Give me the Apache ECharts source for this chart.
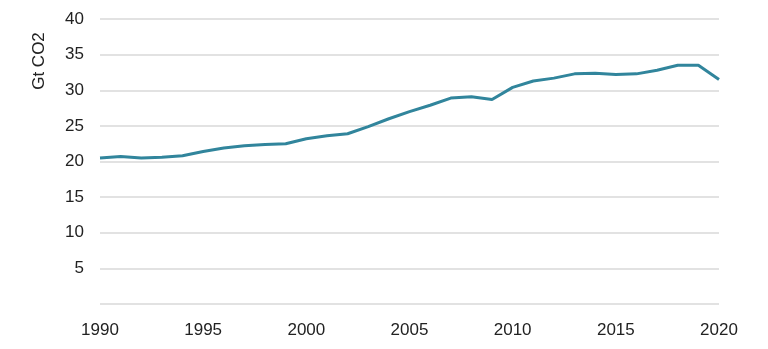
<!DOCTYPE html>
<html>
<head>
<meta charset="utf-8">
<script src="https://cdn.jsdelivr.net/npm/echarts@6/dist/echarts.min.js"></script>
<style>
  html, body { margin: 0; padding: 0; background: #fff; }
  #chart { width: 768px; height: 349px; }
</style>
</head>
<body>
<div id="chart"></div>
<script>
// Global CO2 emissions, Gt per year
const years = [1990, 1991, 1992, 1993, 1994, 1995, 1996, 1997, 1998, 1999,
               2000, 2001, 2002, 2003, 2004, 2005, 2006, 2007, 2008, 2009,
               2010, 2011, 2012, 2013, 2014, 2015, 2016, 2017, 2018, 2019, 2020];
const emissions = [20.5, 20.7, 20.5, 20.6, 20.8, 21.4, 21.9, 22.2, 22.4, 22.5,
                   23.2, 23.6, 23.9, 24.9, 26.0, 27.0, 27.9, 28.9, 29.1, 28.7,
                   30.4, 31.3, 31.7, 32.3, 32.4, 32.2, 32.3, 32.8, 33.5, 33.5, 31.5];
const yAxisTitle = 'Gt CO2';

const textColor = '#222';
const gridColor = '#d9d9d9';
const fontFamily = '"Liberation Sans", Arial, sans-serif';

const chart = echarts.init(document.getElementById('chart'));
chart.setOption({
  animation: false,
  grid: { left: 100, right: 49, top: 19, bottom: 45, containLabel: false },
  xAxis: {
    type: 'value',
    min: 1990, max: 2020, interval: 5,
    axisLine: { show: false },
    axisTick: { show: false },
    splitLine: { show: false },
    axisLabel: {
      color: textColor, fontSize: 17, fontFamily: fontFamily, margin: 18,
      formatter: v => String(v)
    }
  },
  yAxis: {
    type: 'value',
    min: 0, max: 40, interval: 5,
    axisLine: { show: false },
    axisTick: { show: false },
    splitLine: { show: true, lineStyle: { color: gridColor, width: 1.5 } },
    axisLabel: {
      color: textColor, fontSize: 17, fontFamily: fontFamily, margin: 16,
      formatter: v => (v === 0 ? '' : String(v))
    }
  },
  graphic: [{
    type: 'text',
    x: 39, y: 61,
    rotation: Math.PI / 2,
    style: {
      text: yAxisTitle,
      fill: textColor,
      font: '17px ' + fontFamily,
      align: 'center',
      verticalAlign: 'middle'
    }
  }],
  series: [{
    type: 'line',
    data: years.map((y, i) => [y, emissions[i]]),
    showSymbol: false,
    lineStyle: { color: '#31859c', width: 3 },
    itemStyle: { color: '#31859c' }
  }]
});
</script>
</body>
</html>
